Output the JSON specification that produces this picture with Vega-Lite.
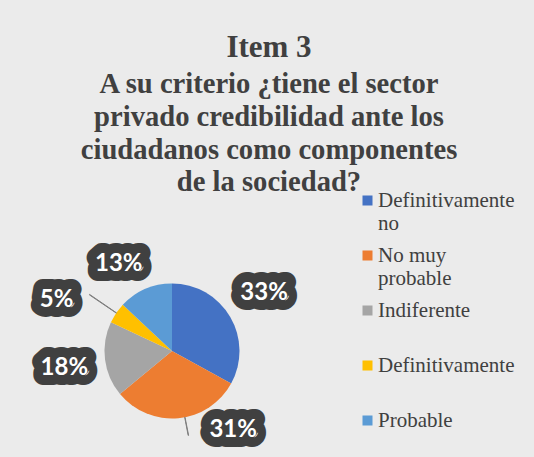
{
  "$schema": "https://vega.github.io/schema/vega-lite/v6.json",
  "width": 336,
  "height": 212,
  "autosize": {"type": "none"},
  "padding": {"left": 4, "top": 245, "right": 194, "bottom": 0},
  "background": "#ebebeb",
  "config": {"view": {"stroke": null, "fill": null}},
  "title": {
    "text": "Item 3",
    "subtitle": ["A su criterio ¿tiene el sector", "privado credibilidad ante los", "ciudadanos como componentes", "de la sociedad?"],
    "anchor": "middle",
    "frame": "group",
    "orient": "top",
    "dx": 97,
    "offset": -25,
    "font": "Liberation Serif",
    "fontSize": 31,
    "fontWeight": "bold",
    "color": "#404040",
    "subtitleFont": "Liberation Serif",
    "subtitleFontSize": 28.6,
    "subtitleFontWeight": "bold",
    "subtitleColor": "#404040",
    "subtitleLineHeight": 32.8,
    "subtitlePadding": 6.5
  },
  "data": {
    "values": [
      {"categoria": "Definitivamente no", "pct": 0.33},
      {"categoria": "No muy probable", "pct": 0.31},
      {"categoria": "Indiferente", "pct": 0.18},
      {"categoria": "Definitivamente", "pct": 0.05},
      {"categoria": "Probable", "pct": 0.13}
    ]
  },
  "transform": [
    {"window": [{"op": "sum", "field": "pct", "as": "fin"}], "frame": [null, 0]},
    {"calculate": "datum.fin - datum.pct", "as": "inicio"},
    {"calculate": "datum.fin - datum.pct / 2", "as": "medio"},
    {"calculate": "datum.medio + 0.0008", "as": "medio2"}
  ],
  "layer": [
    {
      "mark": {"type": "arc", "outerRadius": 67.5},
      "encoding": {
        "theta": {"field": "inicio", "type": "quantitative", "scale": {"domain": [0, 1]}},
        "theta2": {"field": "fin"},
        "color": {
          "field": "categoria",
          "type": "nominal",
          "scale": {
            "domain": ["Definitivamente no", "No muy probable", "Indiferente", "Definitivamente", "Probable"],
            "range": ["#4472C4", "#ED7D31", "#A5A5A5", "#FFC000", "#5B9BD5"]
          },
          "legend": {
            "orient": "none",
            "legendX": 347,
            "legendY": -72,
            "title": null,
            "padding": 6,
            "rowPadding": 0,
            "clipHeight": 55,
            "symbolType": "M-1,-2.2H1V-0.2H-1Z",
            "symbolSize": 100,
            "symbolStrokeWidth": 0,
            "labelFont": "Liberation Serif",
            "labelFontSize": 21,
            "labelColor": "#404040",
            "labelOffset": 0,
            "labelLimit": 220,
            "labelBaseline": "alphabetic",
            "labelExpr": "datum.label == 'Definitivamente no' ? ['Definitivamente', 'no'] : datum.label == 'No muy probable' ? ['No muy', 'probable'] : datum.label"
          }
        }
      }
    },
    {
      "transform": [{"filter": {"field": "categoria", "equal": "Definitivamente"}}],
      "mark": {"type": "arc", "innerRadius": 67.5, "outerRadius": 100, "color": "#7f7f7f", "stroke": "#7f7f7f", "strokeWidth": 1},
      "encoding": {
        "theta": {"field": "medio", "type": "quantitative", "scale": {"domain": [0, 1]}},
        "theta2": {"field": "medio2"}
      }
    },
    {
      "transform": [{"filter": {"field": "categoria", "equal": "No muy probable"}}],
      "mark": {"type": "arc", "innerRadius": 67.5, "outerRadius": 86, "thetaOffset": -0.1, "theta2Offset": -0.1, "color": "#7f7f7f", "stroke": "#7f7f7f", "strokeWidth": 1},
      "encoding": {
        "theta": {"field": "medio", "type": "quantitative", "scale": {"domain": [0, 1]}},
        "theta2": {"field": "medio2"}
      }
    },
    {
      "transform": [{"filter": {"field": "categoria", "oneOf": ["Definitivamente no", "Indiferente"]}}],
      "encoding": {
        "theta": {"field": "medio", "type": "quantitative", "stack": null, "scale": {"domain": [0, 1]}},
        "text": {"field": "pct", "type": "quantitative", "format": ".0%"}
      },
      "layer": [
        {"mark": {"type": "text", "radius": 109, "thetaOffset": -0.03, "font": "Lato", "fontSize": 24, "fontWeight": "bold", "color": "#404040", "stroke": "#404040", "strokeWidth": 20, "strokeJoin": "round"}},
        {"mark": {"type": "text", "radius": 109, "thetaOffset": -0.03, "font": "Lato", "fontSize": 24, "fontWeight": "bold", "color": "#ffffff"}}
      ]
    },
    {
      "transform": [{"filter": {"field": "categoria", "equal": "Probable"}}],
      "encoding": {
        "theta": {"field": "medio", "type": "quantitative", "stack": null, "scale": {"domain": [0, 1]}},
        "text": {"field": "pct", "type": "quantitative", "format": ".0%"}
      },
      "layer": [
        {"mark": {"type": "text", "radius": 102, "thetaOffset": -0.141, "font": "Lato", "fontSize": 24, "fontWeight": "bold", "color": "#404040", "stroke": "#404040", "strokeWidth": 20, "strokeJoin": "round"}},
        {"mark": {"type": "text", "radius": 102, "thetaOffset": -0.141, "font": "Lato", "fontSize": 24, "fontWeight": "bold", "color": "#ffffff"}}
      ]
    },
    {
      "transform": [{"filter": {"field": "categoria", "equal": "Definitivamente"}}],
      "encoding": {
        "theta": {"field": "medio", "type": "quantitative", "stack": null, "scale": {"domain": [0, 1]}},
        "text": {"field": "pct", "type": "quantitative", "format": ".0%"}
      },
      "layer": [
        {"mark": {"type": "text", "radius": 126, "thetaOffset": -0.183, "font": "Lato", "fontSize": 24, "fontWeight": "bold", "color": "#404040", "stroke": "#404040", "strokeWidth": 20, "strokeJoin": "round"}},
        {"mark": {"type": "text", "radius": 126, "thetaOffset": -0.183, "font": "Lato", "fontSize": 24, "fontWeight": "bold", "color": "#ffffff"}}
      ]
    },
    {
      "transform": [{"filter": {"field": "categoria", "equal": "No muy probable"}}],
      "encoding": {
        "theta": {"field": "medio", "type": "quantitative", "stack": null, "scale": {"domain": [0, 1]}},
        "text": {"field": "pct", "type": "quantitative", "format": ".0%"}
      },
      "layer": [
        {"mark": {"type": "text", "radius": 100, "thetaOffset": -0.564, "font": "Lato", "fontSize": 24, "fontWeight": "bold", "color": "#404040", "stroke": "#404040", "strokeWidth": 20, "strokeJoin": "round"}},
        {"mark": {"type": "text", "radius": 100, "thetaOffset": -0.564, "font": "Lato", "fontSize": 24, "fontWeight": "bold", "color": "#ffffff"}}
      ]
    }
  ]
}
